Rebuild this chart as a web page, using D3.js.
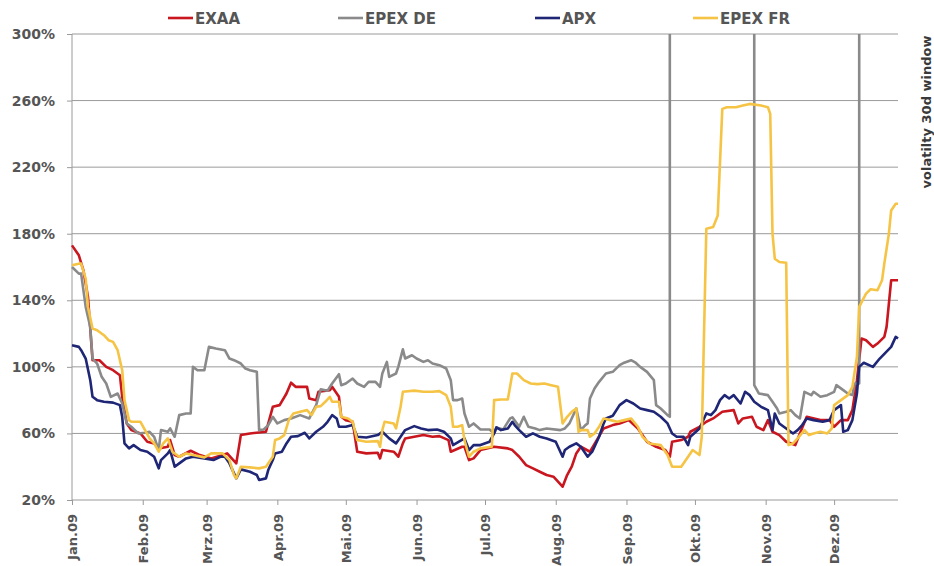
<!DOCTYPE html>
<html>
<head>
<meta charset="utf-8">
<script src="https://cdn.jsdelivr.net/npm/d3@7"></script>
<style>
  body { margin: 0; background: #fff; }
  svg { display: block; font-family: "DejaVu Sans", Verdana, sans-serif; }
  .axis text { font-family: "DejaVu Sans", Verdana, sans-serif; font-weight: bold; fill: #555555; }
  .axis path, .axis line { stroke: #9a9a9a; }
  .grid line { stroke: #9a9a9a; stroke-width: 1; }
  .series { fill: none; stroke-width: 2.6; stroke-linejoin: round; }
</style>
</head>
<body>
<div id="chart"></div>
<script>

// [day of year 2009 (0 = 1 Jan), volatility %]
var exaa = [[0,173],[3,167],[5,158],[7,142],[9,104],[12,104],[15,100],[18,98],[21,95],[22,82],[24,66],[26,62],[30,60],[33,55],[36,54],[38,51],[42,52],[43,56],[45,47],[47,46],[52,49.6],[56,47],[61,45],[66,47],[68,48],[72,42],[74,59],[78,60],[85,61],[88,76],[91,77],[94,84],[96,90.5],[98,88],[103,88],[104,81],[107,80],[108,85],[113,86],[114,88],[117,82],[118,70],[120,68],[123,67],[125,49],[129,48],[134,48.4],[135,45],[136,50],[141,49],[143,46],[145,54],[146,57],[150,58],[154,59],[158,58],[161,58.4],[165,56],[166,49],[171,52],[172,52],[174,44],[176,45],[179,50],[185,52],[191,51],[193,50],[196,46],[199,41],[202,39],[205,37],[208,35],[211,34],[213,31],[215,28],[217,35],[219,40],[221,48],[223,52],[227,49],[230,56],[233,63],[237,65],[240,66],[244,68],[248,63],[252,55],[256,52],[260,50],[262,46],[263,55],[267,56],[270,58],[271,61],[275,64],[278,67],[281,69],[285,73],[290,74],[292,66],[294,69],[298,70],[300,64],[303,62],[305,68],[307,61],[310,59],[313,55],[317,53],[319,60],[322,70],[328,68],[332,68],[334,64],[337,68],[340,68],[342,74],[344,92],[346,117],[348,116],[351,112],[353,114],[356,118],[357,124],[359,152],[362,152]];

var epexDe = [[0,160],[3,156],[4,156],[6,136],[8,124],[9,105],[11,102],[13,94],[15,90],[17,82],[20,84],[22,78],[24,66],[26,64],[29,60],[32,60.4],[34,61],[36,58],[38,50],[39,62],[42,61],[43,63],[45,58],[47,71],[50,72],[52,72],[53,100],[55,98],[58,98],[60,112],[63,111],[67,110],[69,105],[71,104],[74,102],[76,99],[78,98],[81,97],[82,62],[84,62.4],[86,65],[88,70],[90,66],[93,68],[96,69],[100,71],[104,69],[107,77],[109,86.5],[112,85.7],[114,90],[117,95.6],[118,89],[120,90],[123,93],[125,90],[128,88],[130,91],[133,91],[135,88],[136,96],[138,103],[139,94],[142,96],[143,100],[145,110.5],[146,105],[149,107],[151,105],[154,103],[156,104],[158,102],[161,101],[164,99],[166,92],[167,80],[169,80],[171,81],[172,72],[174,64],[176,66],[179,62.4],[183,62.4],[185,60],[186,63.6],[189,62.4],[192,69],[193,69.7],[196,64],[198,70],[200,64],[203,63],[205,62],[208,63],[214,62],[216,63],[218,66],[221,75],[223,62],[225,65],[226,66],[227,81],[229,87],[231,91],[234,96],[237,97],[240,101],[242,102.5],[245,104],[247,102.5],[249,100],[252,97],[255,92],[256,77],[258,75],[261,71],[262,70],[262,400],[299,400],[299,89],[301,84],[305,83],[307,79],[309,75],[310,72],[313,73],[315,74],[317,71],[319,69],[321,85],[324,83],[325,85],[328,82],[331,83],[334,85],[335,89],[338,86],[340,84],[342,83],[343,90],[345,90],[345,400],[362,400]];

var apx = [[0,113],[3,112],[4,110],[6,105],[8,92],[9,82],[11,80],[14,79],[18,78.5],[21,77],[22,70],[23,54],[25,51],[27,53],[30,50],[33,49],[36,46],[38,39],[39,44],[42,48],[43,50],[45,40],[47,42],[50,45],[53,46],[58,45],[62,44],[65,46],[67,46],[69,42],[71,36],[72,33],[74,38.4],[78,37],[81,35],[82,32],[85,33],[86,38],[88,44],[89,48],[92,49],[94,54],[96,58],[99,58.4],[102,60.4],[104,57],[107,61],[110,64],[112,67],[114,71],[116,69],[117,64],[120,64],[123,65],[125,58],[129,57.6],[134,59],[136,61],[139,57],[142,54],[144,58],[146,62],[150,64.4],[153,63],[156,62],[160,62.4],[163,61],[166,57],[167,53],[172,57],[174,50],[176,53],[179,53],[183,55],[185,60],[186,63.6],[188,62],[191,63],[193,67],[194,65],[196,62],[199,58],[202,60],[205,58],[208,57],[212,55],[215,46],[216,50],[218,52],[221,54],[223,52],[226,46],[228,49],[231,58],[233,66],[234,69],[237,70.6],[240,77],[243,80],[246,78],[249,75],[252,74],[255,73],[258,70],[261,66],[263,60],[265,58],[268,58],[270,53],[271,58],[275,63],[278,72],[280,71],[282,74],[284,80],[286,83],[288,81],[290,83],[293,78],[295,85],[297,83],[299,79],[302,76],[305,74],[307,62],[308,72],[310,66],[313,63],[316,60],[318,62],[320,65],[322,69],[325,68],[329,67],[332,68],[334,74],[337,77],[338,61],[340,62],[342,68],[344,84],[345,100],[347,102.5],[351,100],[354,105],[359,112],[361,118],[362,117]];

var epexFr = [[0,161],[3,162],[4,162],[6,153],[7,136],[9,123],[11,122],[14,119],[16,116],[18,115],[20,110],[22,98],[23,80],[25,68],[26,67],[30,67],[32,62],[34,57],[36,54],[38,49],[40,54],[42,57],[44,49],[47,46],[50,48],[53,47],[58,45.6],[61,48],[66,48],[69,44],[71,35],[72,33],[74,40],[78,39.6],[82,39],[85,40],[88,46],[89,56],[91,57],[93,59],[95,68],[97,72],[100,73],[103,74],[105,71],[107,76],[109,76.4],[111,79],[113,82],[114,79],[117,79],[118,70],[121,69],[123,67],[125,56],[129,55],[134,55.4],[135,52],[136,62],[137,67],[141,66],[142,63],[144,76],[145,85],[150,85.7],[154,85],[158,85],[161,85.4],[164,83],[166,76],[167,64],[169,64],[171,65],[172,56],[174,46],[176,49],[179,51],[184,52],[185,80],[188,80.4],[191,80.4],[193,96],[195,96],[198,92],[201,90],[204,89.6],[207,90],[210,89],[213,88],[215,66],[217,70],[219,73],[221,75],[222,61],[223,62],[226,62],[227,58],[229,60],[231,64],[233,69],[236,68],[239,67],[242,68],[245,69],[248,64],[250,58],[253,54],[258,53],[261,47],[263,40],[267,40],[270,46],[272,50],[275,47],[276,58],[278,183],[281,184],[283,191],[285,255],[287,256],[291,256],[294,257],[297,258],[302,257],[305,256],[306,252],[307,180],[308,165],[310,163],[313,162.6],[314,53],[316,54],[318,57],[321,62],[323,59],[325,60],[328,61],[331,60],[333,63],[334,77],[337,80],[340,83],[342,88],[344,106],[345,136],[348,144],[350,146.6],[353,146],[355,152],[356,162],[358,180],[359,194],[361,198],[362,198]];

var seriesNames = ["EXAA", "EPEX DE", "APX", "EPEX FR"];
var seriesColors = ["#c9161f", "#8a8a8a", "#1e2675", "#f6c445"];
var seriesData = [exaa, epexDe, apx, epexFr];

var monthLabels = ["Jan.09","Feb.09","Mrz.09","Apr.09","Mai.09","Jun.09","Jul.09","Aug.09","Sep.09","Okt.09","Nov.09","Dez.09"];
var yTicks = [20, 60, 100, 140, 180, 220, 260, 300];

var W = 934, H = 566;
var plot = {left: 72, right: 898, top: 34, bottom: 500};
var start = new Date(2009, 0, 1);
function dayDate(d) { return d3.timeDay.offset(start, d); }

var x = d3.scaleTime()
    .domain([start, dayDate(362)])
    .range([plot.left, plot.right]);
var y = d3.scaleLinear()
    .domain([20, 300])
    .range([plot.bottom, plot.top]);

var svg = d3.select("#chart").append("svg")
    .attr("width", W)
    .attr("height", H);

svg.append("defs").append("clipPath")
    .attr("id", "plotclip")
  .append("rect")
    .attr("x", plot.left - 2)
    .attr("y", plot.top)
    .attr("width", plot.right - plot.left + 4)
    .attr("height", plot.bottom - plot.top + 2);

// horizontal gridlines
svg.append("g")
    .attr("class", "grid")
  .selectAll("line")
    .data(yTicks.filter(function(t) { return t > 20; }))
  .enter().append("line")
    .attr("x1", plot.left)
    .attr("x2", plot.right)
    .attr("y1", function(d) { return y(d); })
    .attr("y2", function(d) { return y(d); });

// y axis
var yAxis = d3.axisLeft(y)
    .tickValues(yTicks)
    .tickSize(5)
    .tickPadding(12)
    .tickFormat(function(d) { return d + "%"; });
var gy = svg.append("g")
    .attr("class", "axis")
    .attr("transform", "translate(" + plot.left + ",0)")
    .call(yAxis);
gy.select(".domain").attr("d", "M0," + plot.top + "V" + plot.bottom);
gy.selectAll("text").style("font-size", "14px");

// x axis
var months = d3.range(12).map(function(m) { return new Date(2009, m, 1); });
var xAxis = d3.axisBottom(x)
    .tickValues(months)
    .tickSize(5)
    .tickFormat(function(d, i) { return monthLabels[i]; });
var gx = svg.append("g")
    .attr("class", "axis")
    .attr("transform", "translate(0," + plot.bottom + ")")
    .call(xAxis);
gx.select(".domain").attr("d", "M" + plot.left + ",0H" + plot.right);
gx.selectAll("text")
    .style("font-size", "13px")
    .attr("y", 0)
    .attr("x", -14)
    .attr("dy", "0.36em")
    .attr("transform", "rotate(-90)")
    .style("text-anchor", "end");

// lines
var line = d3.line()
    .x(function(d) { return x(dayDate(d[0])); })
    .y(function(d) { return y(d[1]); });

svg.append("g")
    .attr("clip-path", "url(#plotclip)")
  .selectAll("path")
    .data(seriesData)
  .enter().append("path")
    .attr("class", "series")
    .attr("stroke", function(d, i) { return seriesColors[i]; })
    .attr("d", line);

// legend
var legendX = [168, 338, 535, 693];
var lg = svg.append("g").selectAll("g")
    .data(seriesNames)
  .enter().append("g")
    .attr("transform", function(d, i) { return "translate(" + legendX[i] + ",0)"; });
lg.append("line")
    .attr("x1", 0).attr("x2", 25)
    .attr("y1", 18).attr("y2", 18)
    .attr("stroke", function(d, i) { return seriesColors[i]; })
    .attr("stroke-width", 2.6);
lg.append("text")
    .attr("x", 27)
    .attr("y", 24)
    .style("font-size", "15px")
    .style("font-weight", "bold")
    .attr("fill", "#555555")
    .text(function(d) { return d; });

// right side label
svg.append("text")
    .attr("transform", "translate(926,112)rotate(-90)")
    .attr("dy", "0.35em")
    .style("text-anchor", "middle")
    .style("font-size", "13px")
    .style("font-weight", "bold")
    .attr("fill", "#3a3a3a")
    .text("volatilty 30d window");

</script>
</body>
</html>
